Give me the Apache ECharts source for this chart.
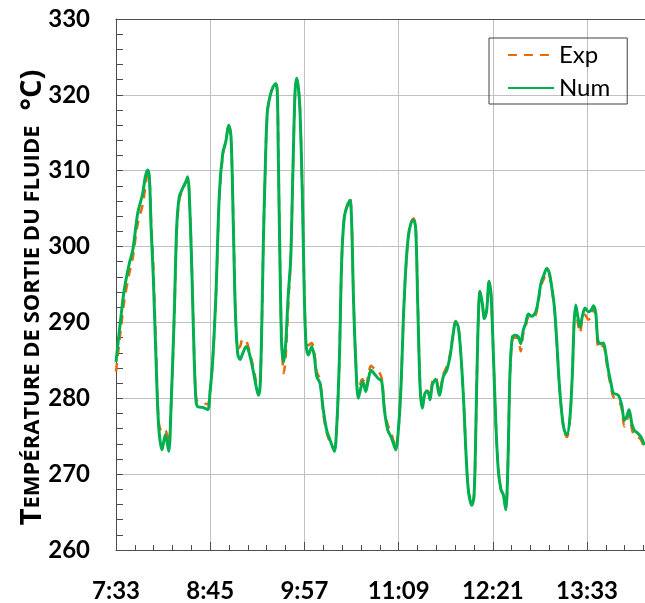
<!DOCTYPE html>
<html>
<head>
<meta charset="utf-8">
<script src="https://cdn.jsdelivr.net/npm/echarts@6/dist/echarts.min.js"></script>
<style>html,body{margin:0;padding:0;background:#fff}#c{width:645px;height:603px}</style>
</head>
<body>
<div id="c"></div>
<script>
// Time in minutes after 7:33
var timeMin = [
0.0,3.8,6.3,10.2,12.8,16.6,20.4,22.4,24.2,25.5,
26.8,28.5,30.6,32.6,35.2,37.7,40.3,42.0,44.6,46.4,
48.4,51.0,53.5,54.8,56.0,58.1,59.8,61.1,62.4,66.3,
70.1,71.8,73.9,76.4,79.0,81.6,84.1,86.1,87.9,89.7,
91.2,93.0,94.8,96.8,99.4,101.1,103.7,106.2,108.8,110.1,
111.4,112.6,113.9,115.6,117.7,120.2,122.1,123.3,124.1,125.3,
126.6,128.2,129.7,131.7,133.5,135.1,136.8,138.1,139.3,140.6,
142.4,143.9,145.2,147.0,149.6,151.6,153.4,155.9,158.4,161.0,
163.6,166.9,168.7,170.7,172.5,174.5,177.1,178.9,180.2,181.4,
183.2,185.2,187.3,188.6,190.9,192.8,194.9,198.0,200.5,203.1,
205.1,207.7,210.2,211.9,213.8,215.8,217.8,219.6,221.4,223.4,
225.5,227.5,229.1,230.6,232.4,234.1,236.2,238.2,240.0,241.8,
244.3,247.1,250.2,252.8,255.3,257.4,259.6,261.6,263.7,265.8,
267.5,269.3,271.9,273.6,274.9,276.5,278.2,280.0,281.5,283.3,
285.1,286.6,288.4,290.2,292.2,294.3,296.0,297.9,299.4,301.1,
302.9,305.0,307.5,309.3,311.3,313.1,315.1,317.7,320.8,322.8,
324.8,327.1,329.2,331.2,333.0,335.0,336.8,338.6,340.7,342.6,
344.7,347.0,348.8,350.1,351.4,352.9,354.6,356.4,358.5,361.0,
363.1,364.8,366.7,368.2,369.9,372.5,374.3,376.3,378.3,380.1,
383.9,386.5,388.5,390.3,392.1,394.2,396.1,398.7,401.3,403.8
];
var numTemp = [
284.8,290.8,294.3,297.8,299.5,304.4,307.0,309.2,310.1,309.2,
302.6,296.0,285.0,276.3,273.2,275.2,273.0,278.5,291.6,302.6,
306.6,307.7,308.6,309.2,307.0,296.0,285.0,279.8,278.9,278.8,
278.5,280.7,285.0,293.8,307.0,312.3,314.0,316.0,314.5,302.6,
291.6,285.9,285.1,285.9,286.8,286.4,284.6,282.4,280.4,281.5,
289.4,300.4,309.2,317.6,319.8,321.1,321.5,320.2,311.4,298.2,
287.2,284.8,287.2,293.8,298.2,309.2,320.2,322.2,321.1,318.0,
307.0,293.8,287.2,285.7,286.8,285.5,282.9,282.0,278.5,275.8,
274.5,273.0,276.3,285.0,298.2,303.9,305.5,306.1,302.6,293.8,
285.0,280.0,281.5,282.2,280.9,282.4,283.7,283.1,282.6,282.2,
278.5,275.8,274.9,274.1,273.2,275.8,281.5,290.3,296.9,301.3,
303.1,303.5,302.2,292.5,281.5,278.7,280.7,280.9,279.8,281.8,
282.5,280.4,282.9,283.7,285.5,288.1,290.1,289.4,285.5,279.3,
272.7,267.9,265.9,267.0,274.9,288.1,294.1,292.5,290.5,291.6,
295.4,293.8,285.9,277.1,270.5,267.9,267.3,265.3,270.5,283.3,
288.1,288.3,288.1,287.2,289.0,289.9,291.1,290.8,291.4,293.0,
295.2,296.3,297.1,296.5,294.7,292.1,287.7,282.4,278.0,275.8,
275.2,277.6,283.3,289.9,292.3,290.8,289.4,290.8,291.9,291.4,
291.6,292.2,291.2,287.7,287.2,287.3,285.9,283.7,282.0,280.7,
280.4,279.1,277.1,277.6,278.5,276.7,275.8,275.4,274.9,273.8
];
var expTemp = [
283.5,289.3,292.8,296.5,298.5,303.0,305.5,307.8,309.5,309.2,
303.5,297.5,286.5,277.0,275.5,275.8,274.0,278.5,291.0,302.0,
306.2,307.5,308.5,309.0,307.0,296.5,285.5,280.2,279.6,279.4,
279.2,280.7,285.0,293.5,306.5,312.0,314.0,316.2,314.5,303.0,
292.0,286.5,286.8,287.8,287.6,286.8,285.0,283.0,280.6,281.5,
289.4,300.4,309.2,317.6,319.8,321.2,321.6,320.5,311.8,298.5,
287.5,283.3,285.5,292.5,298.5,309.2,320.0,322.0,321.2,318.2,
307.5,294.5,287.8,287.0,287.3,286.0,283.5,282.5,278.0,275.5,
274.2,273.4,276.3,285.0,298.2,304.0,305.7,306.4,302.8,294.0,
285.0,280.3,282.3,282.5,281.5,283.0,284.3,283.8,283.6,282.6,
278.8,276.5,275.5,274.5,273.5,275.8,281.5,290.3,296.9,301.3,
303.2,303.7,302.4,292.8,281.8,279.0,281.0,281.0,280.2,282.2,
282.8,280.8,283.2,284.2,285.8,288.2,290.2,289.6,285.5,279.3,
272.7,267.9,266.2,267.2,274.9,288.1,294.1,292.5,290.5,291.6,
295.4,293.8,285.9,277.1,270.5,267.9,267.3,265.5,270.5,283.0,
287.8,288.0,287.8,286.2,288.6,289.5,290.6,290.5,291.0,292.8,
294.8,295.8,296.6,296.2,294.5,292.0,287.7,282.4,278.0,275.6,
274.9,277.4,283.3,289.9,291.8,290.0,288.6,290.3,291.0,290.4,
290.6,291.8,290.8,286.8,286.5,287.0,285.4,283.2,281.5,280.2,
279.8,278.6,276.3,277.0,277.9,276.0,275.1,274.9,274.5,273.4
];
var xTickLabels = ['7:33','8:45','9:57','11:09','12:21','13:33','14:45'];
var seriesNames = ['Exp','Num'];

function pairs(xs, ys){ return xs.map(function(x,i){ return [x, ys[i]]; }); }

var chart = echarts.init(document.getElementById('c'), null, {renderer:'canvas'});
var axisCol = '#4d4d4d';
var gridCol = '#c0c0c0';
var lblStyle = {color:'#000', fontFamily:'Lato', fontWeight:'bold', fontSize:24};
var xMax = 404.3;
chart.setOption({
  animation:false,
  backgroundColor:'#fff',
  grid:{left:116, top:19, right:0, bottom:53, show:false, containLabel:false},
  legend:{
    data: seriesNames,
    orient:'vertical', left:489, top:38,
    padding:[5,17,4,18],
    itemWidth:46, itemHeight:20, itemGap:9,
    itemStyle:{opacity:0},
    borderColor:'#404040', borderWidth:1,
    textStyle:{color:'#000', fontFamily:'Lato', fontSize:24, lineHeight:24}
  },
  xAxis:[{
    type:'value', min:0, max:xMax, interval:72,
    axisLine:{show:true, onZero:false, lineStyle:{color:axisCol, width:1}},
    axisTick:{show:true, inside:true, length:8, lineStyle:{color:axisCol}},
    axisLabel:{show:true, margin:29, showMaxLabel:false, formatter:function(v){ return xTickLabels[Math.round(v/72)] || ''; }, ...lblStyle},
    splitLine:{show:true, lineStyle:{color:gridCol, width:1}}
  },{
    type:'value', min:0, max:xMax, interval:14.4, position:'bottom',
    axisLine:{show:false}, axisLabel:{show:false}, splitLine:{show:false},
    axisTick:{show:true, inside:true, length:5, lineStyle:{color:axisCol}}
  },{
    type:'value', min:0, max:xMax, position:'top',
    axisLine:{show:true, onZero:false, lineStyle:{color:axisCol, width:1}},
    axisTick:{show:false}, axisLabel:{show:false}, splitLine:{show:false}
  }],
  yAxis:{
    type:'value', min:260, max:330, interval:10,
    name:'{b|T}{s|EMPÉRATURE DE SORTIE DU FLUIDE}{b|  °C)}',
    nameLocation:'middle', nameGap:69, nameMoveOverlap:false,
    nameTextStyle:{padding:[0,26,0,0], rich:{
      b:{fontFamily:'Open Sans', fontWeight:'bold', fontSize:29, color:'#000'},
      s:{fontFamily:'Open Sans', fontWeight:'bold', fontSize:22, color:'#000'}
    }},
    axisLine:{show:true, lineStyle:{color:axisCol, width:1}},
    axisTick:{show:true, inside:true, length:7, lineStyle:{color:axisCol}},
    minorTick:{show:true, splitNumber:5, length:7, lineStyle:{color:axisCol}},
    axisLabel:{margin:26, ...lblStyle},
    splitLine:{show:true, lineStyle:{color:gridCol, width:1}}
  },
  series:[{
    name:'Exp', type:'line', xAxisIndex:0, data:pairs(timeMin, expTemp),
    showSymbol:false, symbol:'none', smooth:0.3,
    lineStyle:{color:'#e46c0a', width:2.5, type:[9,7]}, itemStyle:{color:'#e46c0a'}
  },{
    name:'Num', type:'line', xAxisIndex:0, data:pairs(timeMin, numTemp),
    showSymbol:false, symbol:'none', smooth:0.3,
    lineStyle:{color:'#00b050', width:3}, itemStyle:{color:'#00b050'}
  }]
});
</script>
</body>
</html>
